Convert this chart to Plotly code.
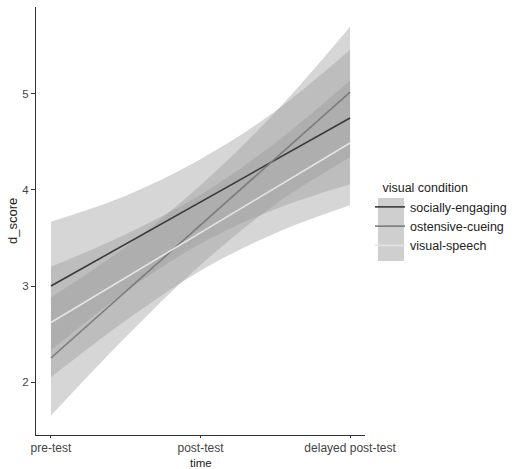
import plotly.graph_objects as go

time_labels = ["pre-test", "post-test", "delayed post-test"]
time_pos = [0, 1, 2]
band_pos = [0, 0.5, 1, 1.5, 2]

series = ["socially-engaging", "ostensive-cueing", "visual-speech"]
line_colors = ["#3a3a3a", "#7c7c7c", "#e4e4e4"]

soc_mean = [3.0, 3.875, 4.75]
ost_mean = [2.25, 3.635, 5.02]
vis_mean = [2.62, 3.555, 4.49]

soc_lo = [2.33, 2.94, 3.44, 3.80, 4.06]
soc_hi = [3.67, 3.94, 4.32, 4.82, 5.46]
ost_lo = [1.65, 2.47, 3.22, 3.85, 4.34]
ost_hi = [2.88, 3.41, 4.05, 4.81, 5.70]
vis_lo = [2.05, 2.64, 3.16, 3.55, 3.84]
vis_hi = [3.20, 3.54, 3.95, 4.49, 5.14]

means = [soc_mean, ost_mean, vis_mean]
los = [soc_lo, ost_lo, vis_lo]
his = [soc_hi, ost_hi, vis_hi]

fig = go.Figure()
FONT = "Liberation Sans, Arial, sans-serif"

for name, lo, hi in zip(series, los, his):
    fig.add_trace(go.Scatter(x=band_pos, y=lo, mode="lines", line=dict(width=0, shape="spline"),
                             showlegend=False, hoverinfo="skip"))
    fig.add_trace(go.Scatter(x=band_pos, y=hi, mode="lines", line=dict(width=0, shape="spline"),
                             fill="tonexty", fillcolor="rgba(153,153,153,0.4)",
                             showlegend=False, hoverinfo="skip"))

for name, m, c in zip(series, means, line_colors):
    fig.add_trace(go.Scatter(x=time_pos, y=m, mode="lines", name=name,
                             line=dict(color=c, width=1.6)))

L, T, B = 36, 7, 34
W, H = 517, 469
PW = 365 - L
PH = H - T - B

def px_x(p):
    return (p - L) / PW

def px_y(p):
    return (H - B - p) / PH

fig.add_shape(type="rect", xref="paper", yref="paper",
              x0=px_x(378), x1=px_x(404), y0=px_y(261), y1=px_y(198),
              fillcolor="#cfcfcf", line=dict(width=0), layer="below")

fig.add_annotation(text="time", xref="paper", yref="paper", x=0.5, y=px_y(463),
                   yanchor="middle", showarrow=False,
                   font=dict(size=11.5, color="#222222"))
fig.add_annotation(text="d_score", xref="paper", yref="paper", x=px_x(12), y=0.5,
                   xanchor="center", textangle=-90, showarrow=False,
                   font=dict(size=13, color="#222222"))

fig.update_layout(
    width=W, height=H,
    margin=dict(l=L, r=W - 365, t=T, b=B, autoexpand=False),
    paper_bgcolor="white", plot_bgcolor="white",
    font=dict(family=FONT, size=13, color="#333333"),
    legend=dict(
        title=dict(text="\u00a0\u00a0\u00a0visual condition", font=dict(size=12.5, color="#222222")),
        x=px_x(370), xanchor="left", y=px_y(176), yanchor="top",
        font=dict(size=12.5, color="#222222"),
        itemwidth=30, tracegroupgap=0, traceorder="normal",
        bgcolor="rgba(0,0,0,0)",
    ),
    xaxis=dict(
        range=[-0.1, 2.1], tickvals=time_pos, ticktext=time_labels,
        showgrid=False, zeroline=False, automargin=False,
        showline=True, linecolor="#333333", linewidth=1,
        ticks="outside", ticklen=2, tickcolor="#333333",
        tickfont=dict(size=12, color="#444444"),
    ),
    yaxis=dict(
        range=[1.448, 5.906], tickvals=[2, 3, 4, 5],
        showgrid=False, zeroline=False, automargin=False,
        showline=True, linecolor="#333333", linewidth=1,
        ticks="outside", ticklen=4, tickcolor="#333333",
        tickfont=dict(size=11.5, color="#444444"),
    ),
)

fig.write_html("out.html", config={"displayModeBar": False},
               post_script="document.body.style.margin='0';document.body.style.overflow='hidden';")
